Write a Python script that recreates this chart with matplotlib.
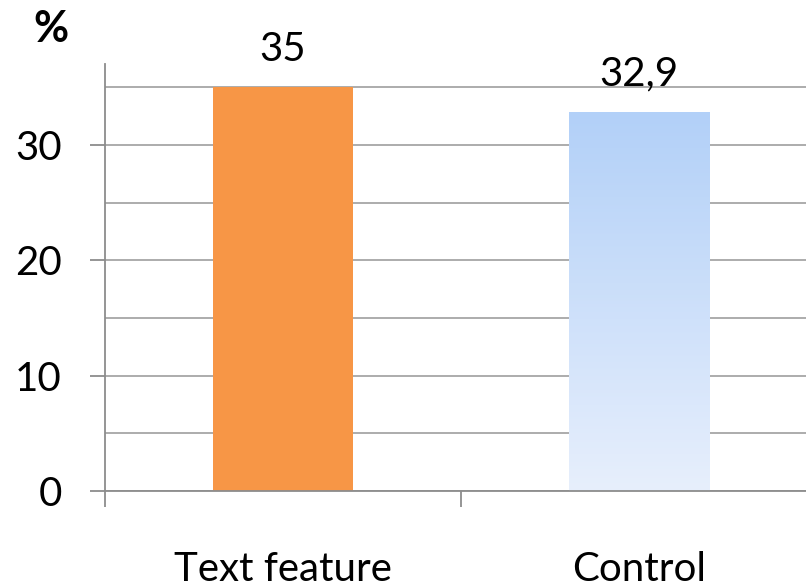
import numpy as np
import matplotlib
matplotlib.use("Agg")
import matplotlib.pyplot as plt
from matplotlib.colors import LinearSegmentedColormap

categories = ["Text feature", "Control"]
values = [35, 32.9]
value_labels = ["35", "32,9"]
y_ticks = [0, 10, 20, 30]
y_grid = [0, 5, 10, 15, 20, 25, 30, 35]

plt.rcParams["font.family"] = ["Lato", "DejaVu Sans"]

fig = plt.figure(figsize=(8.06, 5.87), dpi=100)
ax = fig.add_axes([105 / 806, 96 / 587, 712 / 806, 426.7 / 587])
ax.set_xlim(-0.5, 1.5)
ax.set_ylim(0, 37)

grid_c = "#a6a6a6"
for g in y_grid:
    ax.axhline(g, color=grid_c, lw=1.3, zorder=1)

x = np.arange(len(categories))
bars = ax.bar(x, values, width=0.396, zorder=2)
bars[0].set_facecolor("#f79646")
bars[0].set_edgecolor("none")

# vertical gradient fill for the second bar
blue = LinearSegmentedColormap.from_list("blue_grad", ["#e7effc", "#b2d0f8"])
b = bars[1]
b.set_facecolor("none")
b.set_edgecolor("none")
bx, by = b.get_x(), b.get_y()
bw, bh = b.get_width(), b.get_height()
grad = np.linspace(0, 1, 256).reshape(-1, 1)
im = ax.imshow(grad, cmap=blue, aspect="auto", origin="lower",
               extent=[bx, bx + bw, by, by + bh], zorder=2)
im.set_clip_path(b)
ax.set_xlim(-0.5, 1.5)
ax.set_ylim(0, 37)

for xi, v, lab in zip(x, values, value_labels):
    ax.annotate(lab, (xi, v), xytext=(0, 19), textcoords="offset points",
                ha="center", va="baseline", fontsize=29, color="black")

for xi, cat in zip(x, categories):
    ax.text(xi, -7.8, cat, ha="center", va="baseline", fontsize=29)

for s in ["top", "right"]:
    ax.spines[s].set_visible(False)
ax.spines["left"].set_color("#8c8c8c")
ax.spines["bottom"].set_color("#8c8c8c")
ax.spines["left"].set_linewidth(1.3)
ax.spines["bottom"].set_linewidth(1.3)

ax.set_yticks(y_ticks)
ax.set_yticklabels([str(t) for t in y_ticks])
ax.tick_params(axis="y", length=11, width=1.3, color="#8c8c8c",
               labelsize=29, pad=20)
ax.set_xticks([-0.5, 0.5, 1.5])
ax.set_xticklabels([])
ax.tick_params(axis="x", length=11.5, width=1.3, color="#8c8c8c")

fig.text(51 / 806, 1 - 29 / 587, "%", ha="center", va="center",
         fontsize=31, fontweight="bold")

fig.savefig("out.png", dpi=100)
